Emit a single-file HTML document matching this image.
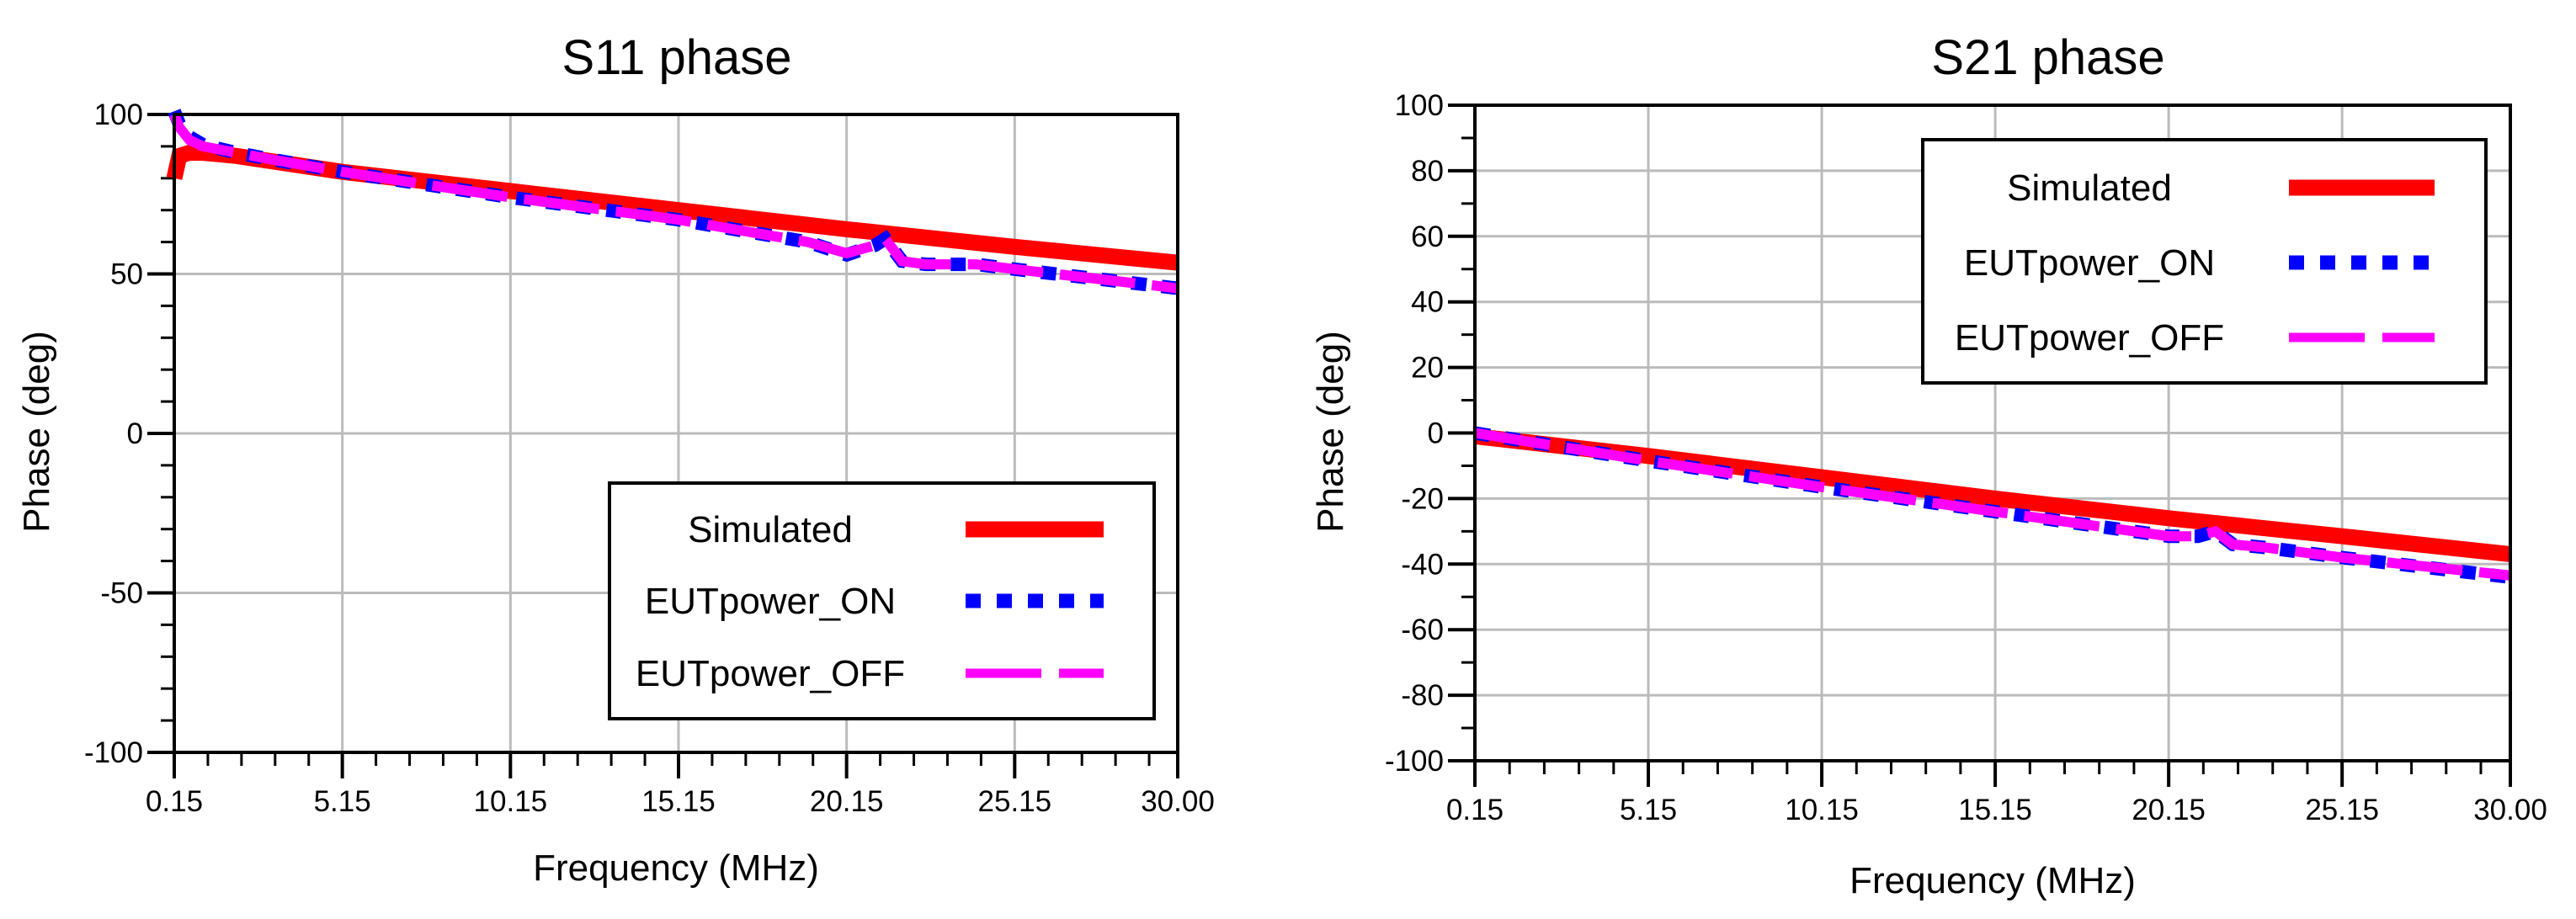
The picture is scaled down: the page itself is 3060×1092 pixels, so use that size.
<!DOCTYPE html>
<html><head><meta charset="utf-8"><style>
html,body{margin:0;padding:0;background:#fff;}
svg{display:block;font-family:"Liberation Sans",sans-serif;}
</style></head><body>
<svg id="svg" width="3060" height="1092" viewBox="0 0 3060 1092" xmlns="http://www.w3.org/2000/svg"></svg>
<script>
// ---- S11 data ----
const s11Freq = [0.15, 0.3, 0.6, 1, 2, 5.15, 10.15, 15.15, 20.15, 25.15, 30];
const s11Sim = [80, 87, 88, 88, 87, 82, 76, 70, 64, 58.5, 53.5];
const s11OnFreq = [0.15, 0.3, 0.6, 1, 2, 3, 5.15, 10.15, 15.15, 19, 20.15, 21, 21.3, 21.8, 22.5, 24, 25.15, 30];
const s11On = [101, 97, 93, 90.5, 88, 86, 82, 74, 67, 60, 56, 59, 61, 54, 53, 53, 51.5, 45.5];
const s11Off = [100, 96, 92, 90, 88, 86, 82, 74, 67, 60, 56.5, 59, 61, 54, 53, 53, 51.5, 45.5];
const s11YTicks = [100, 50, 0, -50, -100];
// ---- S21 data ----
const s21Freq = [0.15, 5.15, 10.15, 15.15, 20.15, 25.15, 30];
const s21Sim = [-1, -7, -13.5, -20, -26, -31.5, -37];
const s21OnFreq = [0.15, 5.15, 10.15, 15.15, 20.15, 21, 21.5, 22, 23, 25.15, 30];
const s21On = [0, -8.5, -16.5, -24, -31.5, -31.5, -30, -34, -35, -38, -44];
const s21Off = [0, -8.5, -16.5, -24, -31.5, -31.5, -30, -34, -35, -38, -43.5];
const s21YTicks = [100, 80, 60, 40, 20, 0, -20, -40, -60, -80, -100];
const xTicks = [0.15, 5.15, 10.15, 15.15, 20.15, 25.15, 30];
const xTickLabels = ["0.15", "5.15", "10.15", "15.15", "20.15", "25.15", "30.00"];
const legendNames = ["Simulated", "EUTpower_ON", "EUTpower_OFF"];

const NS = "http://www.w3.org/2000/svg";
const svg = document.getElementById('svg');
function mk(tag, attrs, parent, text) {
  const e = document.createElementNS(NS, tag);
  for (const k in attrs) e.setAttribute(k, attrs[k]);
  if (text !== undefined) e.textContent = text;
  (parent || svg).appendChild(e);
  return e;
}

function chart(cfg) {
  const g = mk('g', {});
  
  
  const L = cfg.L, R = cfg.R, T = cfg.T, B = cfg.B;
  const xs = v => L + (v - 0.15) / (30 - 0.15) * (R - L);
  const ys = v => T + (100 - v) / 200 * (B - T);
  // grid
  xTicks.forEach((v, i) => {
    if (i > 0 && i < xTicks.length - 1) {
      const l = mk('line', {x1: xs(v), x2: xs(v), y1: T, y2: B, stroke: '#bbbbbb', 'stroke-width': 3}, g);
      
      
    }
  });
  cfg.yTicks.forEach(v => {
    if (v < 100 && v > -100) {
      const l = mk('line', {x1: L, x2: R, y1: ys(v), y2: ys(v), stroke: '#bbbbbb', 'stroke-width': 3}, g);
      
      
    }
  });
  // x ticks
  for (let f = 0.15; f <= 30.01; f += 1) {
    mk('line', {x1: xs(f), x2: xs(f), y1: B, y2: B + 16, stroke: '#000', 'stroke-width': 3}, g);
  }
  xTicks.forEach((v, i) => {
    mk('line', {x1: xs(v), x2: xs(v), y1: B, y2: B + 31, stroke: '#000', 'stroke-width': 4}, g);
    const t = mk('text', {x: xs(v), y: B + 70, 'font-size': 35, 'text-anchor': 'middle', fill: '#000'}, g, xTickLabels[i]);
    
    
  });
  // y ticks
  for (let v = -100; v <= 100; v += 10) {
    mk('line', {x1: L - 16, x2: L, y1: ys(v), y2: ys(v), stroke: '#000', 'stroke-width': 3}, g);
  }
  cfg.yTicks.forEach(v => {
    mk('line', {x1: L - 32, x2: L, y1: ys(v), y2: ys(v), stroke: '#000', 'stroke-width': 4}, g);
    const t = mk('text', {x: L - 37, y: ys(v) + 12, 'font-size': 35, 'text-anchor': 'end', fill: '#000'}, g, String(v));
    
    
  });
  // series
  const clipId = cfg.name + '-clip';
  const cp = mk('clipPath', {id: clipId}, g);
  mk('rect', {x: L - 10, y: T - 10, width: R - L + 20, height: B - T + 20}, cp);
  const pts = (fx, fy) => fx.map((f, i) => xs(f).toFixed(1) + ',' + ys(fy[i]).toFixed(1)).join(' ');
  const sim = mk('polyline', {points: pts(cfg.simF, cfg.sim), fill: 'none', stroke: '#ff0000', 'stroke-width': 19, 'clip-path': 'url(#' + clipId + ')'}, g);
  
  
  const on = mk('polyline', {points: pts(cfg.measF, cfg.on), fill: 'none', stroke: '#0000ff', 'stroke-width': 16, 'stroke-dasharray': '18 18', 'clip-path': 'url(#' + clipId + ')'}, g);
  
  
  const off = mk('polyline', {points: pts(cfg.measF, cfg.off), fill: 'none', stroke: '#ff00ff', 'stroke-width': 12, 'stroke-dasharray': '90 20', 'clip-path': 'url(#' + clipId + ')'}, g);
  
  
  // frame
  const fr = mk('rect', {x: L, y: T, width: R - L, height: B - T, fill: 'none', stroke: '#000', 'stroke-width': 4}, g);
  
  
  // titles
  const tt = mk('text', {x: cfg.titleX, y: 88, 'font-size': 58, 'text-anchor': 'middle', fill: '#000'}, g, cfg.title);
  
  
  const xt = mk('text', {x: (L + R) / 2, y: cfg.xTitleY, 'font-size': 44, 'text-anchor': 'middle', fill: '#000'}, g, 'Frequency (MHz)');
  
  
  const yt = mk('text', {x: 0, y: 0, 'font-size': 44, 'text-anchor': 'middle', fill: '#000', transform: 'translate(' + cfg.yTitleX + ',513) rotate(-90)'}, g, 'Phase (deg)');
  
  
  // legend
  const lg = mk('g', {}, g);
  
  
  const lb = cfg.leg;
  mk('rect', {x: lb.x, y: lb.y, width: lb.w, height: lb.h, fill: '#fff', stroke: '#000', 'stroke-width': 4}, lg);
  const styles = [
    {stroke: '#ff0000', w: 19, d: ''},
    {stroke: '#0000ff', w: 17, d: '18 19'},
    {stroke: '#ff00ff', w: 11, d: '90 21'}
  ];
  legendNames.forEach((n, i) => {
    const cy = lb.rows[i];
    const e = mk('g', {}, lg);
    
    
    mk('text', {x: lb.textX, y: cy + 15, 'font-size': 44, 'text-anchor': 'middle', fill: '#000'}, e, n);
    const a = {x1: lb.lx1, x2: lb.lx2, y1: cy, y2: cy, stroke: styles[i].stroke, 'stroke-width': styles[i].w};
    if (styles[i].d) a['stroke-dasharray'] = styles[i].d;
    mk('line', a, e);
  });
}

chart({name: 's11-chart', L: 207, R: 1399, T: 136, B: 894, yTicks: s11YTicks,
  simF: s11Freq, sim: s11Sim, measF: s11OnFreq, on: s11On, off: s11Off,
  title: 'S11 phase', titleX: 804, xTitleY: 1046, yTitleX: 58,
  leg: {x: 724, y: 574, w: 647, h: 280, textX: 915, lx1: 1147, lx2: 1311, rows: [629, 714, 800]}});
chart({name: 's21-chart', L: 1752, R: 2982, T: 125, B: 904, yTicks: s21YTicks,
  simF: s21Freq, sim: s21Sim, measF: s21OnFreq, on: s21On, off: s21Off,
  title: 'S21 phase', titleX: 2433, xTitleY: 1061, yTitleX: 1595,
  leg: {x: 2284, y: 166, w: 669, h: 289, textX: 2482, lx1: 2719, lx2: 2892, rows: [223, 312, 401]}});
</script>
</body></html>
